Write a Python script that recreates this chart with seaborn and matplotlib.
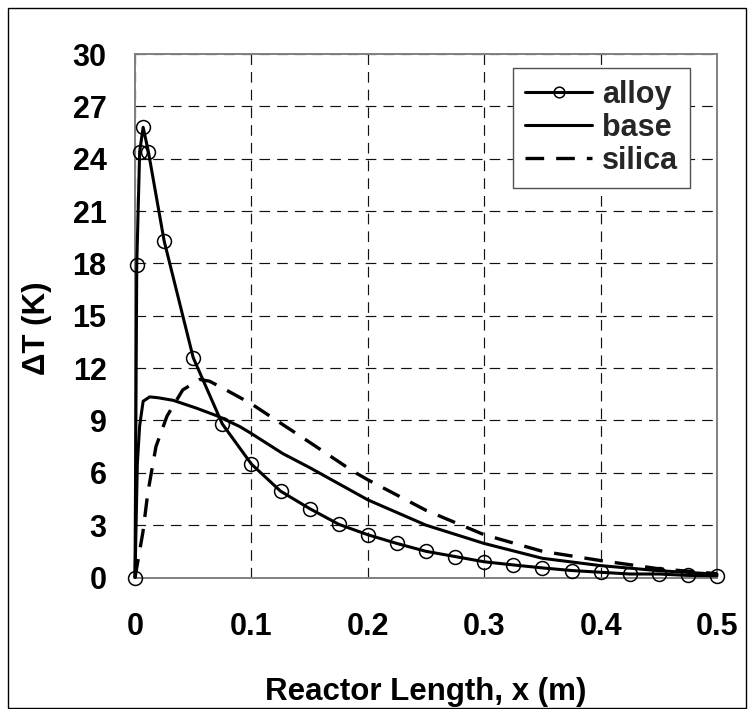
import matplotlib
matplotlib.use("Agg")
import matplotlib.pyplot as plt
from matplotlib.patches import Rectangle
import seaborn as sns
import pandas as pd

# ---------------- data ----------------
alloy_x = [0, 0.0015, 0.004, 0.007, 0.0115, 0.025, 0.05, 0.075, 0.1, 0.125, 0.15, 0.175,
           0.2, 0.225, 0.25, 0.275, 0.3, 0.325, 0.35, 0.375, 0.4, 0.425, 0.45, 0.475, 0.5]
alloy_y = [0, 17.9, 24.4, 25.8, 24.4, 19.3, 12.6, 8.8, 6.5, 4.95, 3.95, 3.05,
           2.45, 1.95, 1.5, 1.2, 0.9, 0.72, 0.55, 0.4, 0.3, 0.2, 0.2, 0.12, 0.1]

base_x = [0, 0.002, 0.004, 0.007, 0.0126, 0.02, 0.033, 0.053, 0.071, 0.09, 0.1, 0.127,
          0.15, 0.2, 0.25, 0.3, 0.35, 0.4, 0.45, 0.5]
base_y = [0, 6.5, 8.7, 10.1, 10.35, 10.3, 10.15, 9.7, 9.25, 8.65, 8.25, 7.1,
          6.3, 4.45, 3.0, 1.95, 1.1, 0.68, 0.39, 0.19]

silica_x = [0, 0.0068, 0.011, 0.018, 0.0275, 0.041, 0.0556, 0.064, 0.081, 0.1, 0.15,
            0.187, 0.2, 0.25, 0.3, 0.35, 0.4, 0.45, 0.5]
silica_y = [0, 2.6, 4.85, 7.5, 9.25, 10.75, 11.35, 11.25, 10.65, 9.95, 7.75,
            6.1, 5.6, 3.85, 2.45, 1.5, 0.97, 0.5, 0.22]

series_names = ["alloy", "base", "silica"]
x_ticks = [0, 0.1, 0.2, 0.3, 0.4, 0.5]
x_tick_labels = ["0", "0.1", "0.2", "0.3", "0.4", "0.5"]
y_ticks = [0, 3, 6, 9, 12, 15, 18, 21, 24, 27, 30]
x_label = "Reactor Length, x (m)"
y_label = "ΔT (K)"

# ---------------- style ----------------
sns.set_theme(style="white")
plt.rcParams['font.family'] = ['Liberation Sans', 'DejaVu Sans']
plt.rcParams['font.weight'] = 'bold'

FS = 22
FS_LAB = 22.5
fig = plt.figure(figsize=(7.54, 7.09), dpi=100)
fig.patch.set_facecolor("white")
# outer frame
fig.patches.append(Rectangle((8 / 754, 1 / 709), 738 / 754, 700 / 709,
                             transform=fig.transFigure, fill=False,
                             edgecolor="black", linewidth=1.0, zorder=0))

ax = fig.add_axes([135 / 754, 1 - 577.5 / 709, 582 / 754, 523.5 / 709])

df_alloy = pd.DataFrame({"x": alloy_x, "y": alloy_y})
df_base = pd.DataFrame({"x": base_x, "y": base_y})
df_silica = pd.DataFrame({"x": silica_x, "y": silica_y})

sns.lineplot(data=df_alloy, x="x", y="y", ax=ax, color="black", linewidth=2.2,
             marker="o", markersize=10, markerfacecolor="none",
             markeredgecolor="black", markeredgewidth=1.1,
             label=series_names[0], clip_on=False, zorder=4)
sns.lineplot(data=df_base, x="x", y="y", ax=ax, color="black", linewidth=2.2,
             label=series_names[1], clip_on=False, zorder=3)
sns.lineplot(data=df_silica, x="x", y="y", ax=ax, color="black", linewidth=2.4,
             linestyle=(0, (5.6, 3.6)), label=series_names[2], clip_on=False, zorder=3)

ax.set_xlim(0, 0.5)
ax.set_ylim(0, 30)
ax.set_xticks(x_ticks)
ax.set_xticklabels(x_tick_labels)
ax.set_yticks(y_ticks)

ax.grid(True, color="#111111", linestyle=(0, (9, 6)), linewidth=0.85, zorder=1)
ax.set_axisbelow(True)
for sp in ax.spines.values():
    sp.set_visible(True)
    sp.set_color("#808080")
    sp.set_linewidth(1.4)

ax.tick_params(axis="both", direction="out", length=7.5, width=1.0, color="#808080",
               labelsize=FS, labelcolor="black")
ax.tick_params(axis="x", pad=17)
ax.tick_params(axis="y", pad=13)
for lab in ax.get_xticklabels() + ax.get_yticklabels():
    lab.set_fontweight("bold")

ax.set_xlabel(x_label, fontsize=FS_LAB, fontweight="bold", color="black")
ax.set_ylabel(y_label, fontsize=FS_LAB, fontweight="bold", color="black")
ax.xaxis.set_label_coords(0.5, -0.19)
ax.yaxis.set_label_coords(-0.142, 0.4766)

leg = ax.legend(loc="upper right", bbox_to_anchor=(0.9536, 0.974), frameon=True,
                fancybox=False, edgecolor="#505050", framealpha=1, facecolor="white",
                prop={"weight": "bold", "size": FS}, handlelength=2.2,
                labelspacing=0.1, borderpad=0.4, handletextpad=0.3,
                borderaxespad=0, numpoints=1)
leg.get_frame().set_linewidth(1.0)
hs = leg.legend_handles
hs[0].set_markersize(7.7)

fig.savefig("out.png", dpi=100, facecolor="white")
